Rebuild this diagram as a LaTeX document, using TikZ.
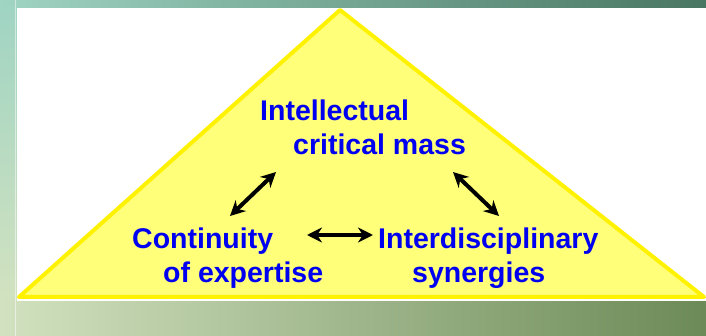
\documentclass[tikz,border=0pt]{standalone}
\usepackage{fontspec}
\setmainfont{Liberation Sans}
\usetikzlibrary{arrows.meta}
\definecolor{tealleft}{HTML}{A0D4C3}
\definecolor{tealright}{HTML}{487662}
\definecolor{oliveleft}{HTML}{D2E2C0}
\definecolor{oliveright}{HTML}{6C8A57}
\definecolor{stripbottom}{HTML}{D2E2C0}
\definecolor{paleyellow}{HTML}{FFFF7A}
\definecolor{labelblue}{HTML}{0000F0}

\begin{document}
\begin{tikzpicture}[x=1pt,y=-1pt,
  lbl/.style={anchor=base west,inner sep=0pt,align=left,text=labelblue,
    font=\bfseries\fontsize{28.5}{34}\selectfont},
  twoway/.style={{Stealth[length=15pt,width=15pt]}-{Stealth[length=15pt,width=15pt]},line width=4pt}]
\useasboundingbox (0,0) rectangle (706,336);
% background
\shade[left color=tealleft,right color=tealright] (0,0) rectangle (706,8);
\shade[top color=tealleft,bottom color=stripbottom] (0,8) rectangle (17,301);
\shade[left color=oliveleft,right color=oliveright] (0,301) rectangle (706,336);
\fill[white] (17,8) rectangle (706,301);
\draw[white,opacity=.5] (15.5,0) -- (15.5,336);
% triangle
\draw[yellow,fill=paleyellow,line width=4pt,line join=round] (340,10) -- (704,297) -- (19,297) -- cycle;
% labels
\node[lbl] (mass) at (260,154.5) {Intellectual\\\hspace*{33pt}critical mass};
\node[lbl] (expertise) at (132,283) {Continuity\\\hspace*{31pt}of expertise};
\node[lbl] (synergies) at (378,283) {Interdisciplinary\\\hspace*{34pt}synergies};
% arrows
\coordinate (exp-up) at (230,216);
\coordinate (mass-dl) at (276,172);
\coordinate (mass-dr) at (453,172);
\coordinate (syn-up) at (499,216);
\coordinate (exp-r) at (307,235);
\coordinate (syn-l) at (373,235);
\draw[twoway] (exp-up) -- (mass-dl);
\draw[twoway] (mass-dr) -- (syn-up);
\draw[twoway] (exp-r) -- (syn-l);
\end{tikzpicture}
\end{document}
